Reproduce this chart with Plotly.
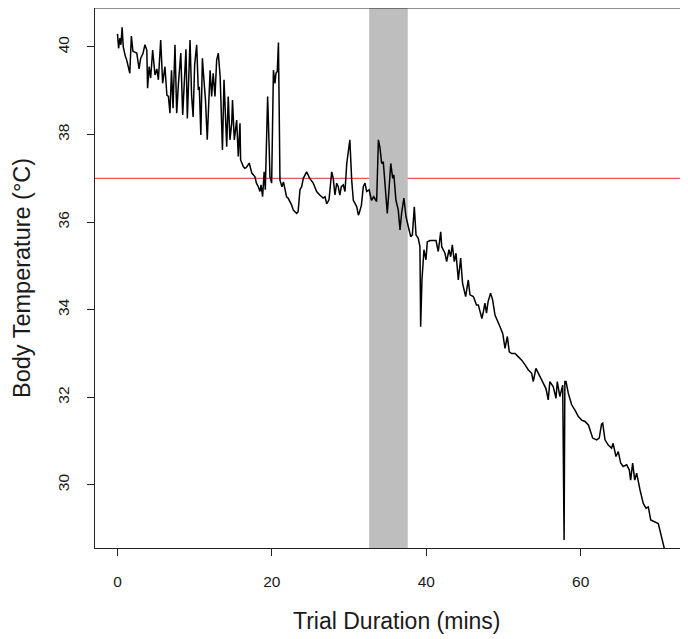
import plotly.graph_objects as go

# Trial duration (mins) and body temperature (°C)
time_min = [
    0.0, 0.15, 0.3, 0.45, 0.6, 0.75, 1.0, 1.2, 1.6, 1.8, 2.0, 2.5, 2.8, 3.0, 3.3, 3.56, 3.8, 3.9,
    4.1, 4.3, 4.56, 4.86, 5.1, 5.3, 5.6, 5.85, 6.15, 6.4, 6.6, 6.8, 7.0, 7.2, 7.45, 7.67, 7.9,
    8.2, 8.45, 8.65, 8.87, 9.05, 9.25, 9.4, 9.6, 9.8, 10.0, 10.26, 10.47, 10.6, 10.8, 11.0, 11.2,
    11.4, 11.63, 12.0, 12.2, 12.4, 12.63, 12.85, 13.06, 13.3, 13.6, 13.8, 14.15, 14.35, 14.57,
    14.8, 14.9, 15.13, 15.44, 15.65, 15.87, 15.95, 16.3, 16.5, 16.7, 16.95, 17.07, 17.4, 17.8,
    18.0, 18.24, 18.46, 18.6, 18.8, 19.0, 19.15, 19.45, 19.66, 19.75, 19.97, 20.2, 20.4, 20.53,
    20.7, 20.85, 21.05, 21.3, 21.5, 21.9, 22.1, 22.35, 22.56, 22.77, 23.0, 23.2, 23.4, 23.64,
    23.86, 24.07, 24.5, 24.9, 25.36, 25.6, 25.8, 26.2, 26.65, 26.88, 27.1, 27.4, 27.75, 27.95,
    28.17, 28.4, 28.6, 28.8, 29.0, 29.25, 29.47, 29.7, 29.9, 30.1, 30.34, 30.55, 31.0, 31.2,
    31.3, 31.6, 31.84, 32.06, 32.28, 32.6, 32.9, 33.2, 33.57, 33.8, 34.0, 34.22, 34.43, 34.78,
    34.95, 35.2, 35.4, 35.65, 35.8, 36.07, 36.37, 36.6, 36.8, 37.1, 37.37, 37.67, 37.98, 38.2,
    38.45, 38.67, 38.96, 39.18, 39.27, 39.44, 39.7, 39.96, 40.13, 40.48, 40.9, 41.26, 41.55,
    41.87, 42.0, 42.42, 42.64, 42.94, 43.16, 43.37, 43.63, 43.85, 44.15, 44.45, 44.7, 45.1,
    45.44, 45.66, 46.1, 46.5, 46.74, 47.2, 47.4, 47.6, 47.8, 48.0, 48.33, 48.6, 48.9, 49.2,
    49.55, 49.9, 50.2, 50.5, 50.75, 51.06, 51.5, 51.9, 52.36, 52.8, 53.2, 53.65, 53.86, 54.2,
    54.64, 55.07, 55.5, 55.8, 56.0, 56.45, 56.8, 56.97, 57.3, 57.67, 57.8, 57.85, 57.95, 58.1,
    58.4, 58.83, 59.26, 59.7, 60.13, 60.56, 61.0, 61.55, 62.07, 62.4, 62.7, 62.85, 63.15, 63.57,
    64.0, 64.2, 64.57, 64.87, 65.18, 65.5, 65.96, 66.3, 66.47, 66.73, 67.0, 67.25, 67.68, 68.1,
    68.46, 68.76, 69.07, 69.5, 70.05, 70.9,
]
body_temp = [
    40.3, 39.97, 40.2, 40.05, 40.45, 40.0, 39.8, 39.7, 39.4, 40.25, 39.9, 39.86, 39.5, 39.74, 39.85, 40.05, 39.93, 39.06,
    39.55, 39.29, 39.93, 39.36, 39.5, 39.25, 40.16, 39.17, 39.55, 38.9, 38.87, 38.49, 39.47, 38.6, 40.05, 38.49, 39.17,
    39.86, 38.45, 39.2, 39.95, 38.37, 39.4, 40.16, 38.9, 38.4, 39.6, 40.05, 39.02, 39.09, 37.99, 39.74, 39.25,
    38.79, 37.88, 39.47, 38.87, 39.4, 38.87, 39.7, 39.86, 39.32, 37.65, 39.25, 37.72, 38.87, 37.88,
    38.26, 38.79, 37.88, 38.33, 37.5, 38.26, 37.42, 37.27, 37.23, 37.25, 37.31, 37.35, 37.12, 37.04,
    36.89, 36.81, 36.7, 36.85, 36.58, 37.15, 36.74, 38.87, 37.65, 37.04, 36.89, 39.47, 39.17, 39.4,
    39.44, 40.1, 36.96, 36.81, 36.92, 36.58, 36.55, 36.47, 36.39, 36.28, 36.24, 36.2, 36.24, 36.74,
    36.81, 37.0, 37.15, 37.0, 36.89, 36.77, 36.7, 36.62, 36.55, 36.58, 36.42, 36.51, 37.15, 37.0,
    36.62, 36.89, 36.81, 36.62, 36.81, 36.85, 36.7, 37.34, 37.57, 37.88, 36.96, 36.5, 36.35, 36.16,
    36.2, 36.39, 36.81, 36.89, 36.7, 36.74, 36.5, 36.58, 36.47, 37.88, 37.7, 37.34, 37.38, 36.58,
    36.2, 36.81, 37.34, 37.0, 37.08, 36.5, 36.28, 35.82, 36.2, 36.55, 36.13, 35.9, 35.67, 35.71,
    36.35, 35.71, 35.63, 35.44, 33.61, 34.68, 35.37, 35.14, 35.55, 35.58, 35.58, 35.58, 35.33,
    35.78, 35.44, 35.29, 35.1, 35.37, 35.21, 35.48, 35.1, 35.29, 34.68, 35.18, 34.6, 34.3,
    34.68, 34.34, 34.3, 34.11, 34.11, 33.8, 33.96, 34.15, 33.92, 34.18, 34.38, 34.22, 33.88, 33.77,
    33.61, 33.46, 33.12, 33.39, 33.04, 33.0, 33.0, 32.93, 32.85, 32.74, 32.63, 32.55, 32.36, 32.66,
    32.51, 32.36, 32.2, 31.94, 32.36, 32.24, 31.98, 32.36, 32.02, 32.28, 28.74, 28.74, 32.36, 32.36,
    32.09, 31.83, 31.71, 31.56, 31.48, 31.45, 31.37, 31.07, 31.03, 31.07, 31.39, 31.41, 31.03, 30.91,
    30.84, 30.95, 30.65, 30.76, 30.5, 30.42, 30.46, 30.34, 30.11, 30.5, 30.11, 30.27, 29.89, 29.58,
    29.47, 29.5, 29.2, 29.16, 29.12, 28.5,
]

x_ticks = [0, 20, 40, 60]
y_ticks = [30, 32, 34, 36, 38, 40]
reference_temp = 37
band_start, band_end = 32.6, 37.6

x_range = [-2.91, 73.9]
y_range = [28.56, 40.89]

FONT = "Liberation Sans, Arial, Helvetica, sans-serif"
INK = "#1a1a1a"

fig = go.Figure()

fig.add_trace(go.Scatter(
    x=time_min, y=body_temp, mode="lines",
    line=dict(color="black", width=1.5),
    showlegend=False, hoverinfo="x+y",
))

# reference temperature line (drawn beneath the band)
fig.add_shape(type="line", xref="paper", yref="y", x0=0, x1=1,
              y0=reference_temp, y1=reference_temp,
              line=dict(color="#e25a5a", width=1.2), layer="below")
# shaded interval
fig.add_shape(type="rect", xref="x", yref="paper", x0=band_start, x1=band_end,
              y0=0, y1=1, fillcolor="#bebebe", line=dict(width=0), layer="below")
# top border of the plot box
fig.add_shape(type="line", xref="paper", yref="paper", x0=0, x1=1, y0=1, y1=1,
              line=dict(color="#222", width=1))

fig.update_layout(
    width=680, height=631,
    margin=dict(l=87, r=0, t=0, b=91),
    paper_bgcolor="white", plot_bgcolor="white",
    font=dict(family=FONT, color=INK, size=15),
    xaxis=dict(range=x_range, tickvals=x_ticks, ticks="outside", ticklen=7,
               tickcolor="#222", showline=True, linecolor="#222", linewidth=1,
               showgrid=False, zeroline=False, tickfont=dict(size=15.5, color=INK),
               ticklabelstandoff=12),
    yaxis=dict(range=y_range, tickvals=y_ticks, ticks="outside", ticklen=7,
               tickcolor="#222", showline=True, linecolor="#222", linewidth=1,
               showgrid=False, zeroline=False, tickangle=-90,
               tickfont=dict(size=15.5, color=INK), ticklabelstandoff=12),
    annotations=[
        dict(text="Trial Duration (mins)", xref="paper", yref="paper", x=0.508, y=0,
             xanchor="center", yanchor="middle", yshift=-73, showarrow=False,
             font=dict(size=23, family=FONT, color=INK)),
        dict(text="Body Temperature (°C)", xref="paper", yref="paper", x=0, y=0.5,
             xanchor="center", yanchor="middle", xshift=-73, textangle=-90,
             showarrow=False, font=dict(size=23.5, family=FONT, color=INK)),
    ],
)

fig.write_html("out.html")
